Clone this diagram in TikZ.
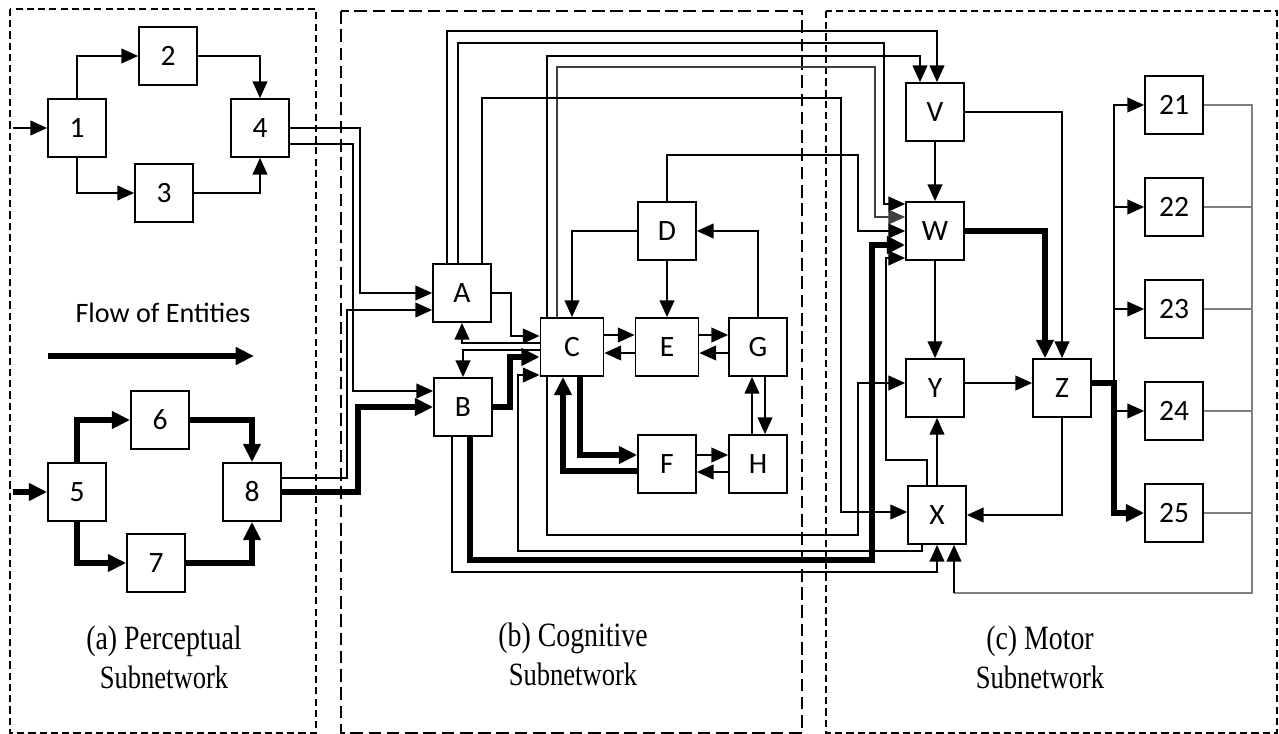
\documentclass[tikz,border=0pt]{standalone}
\usepackage{fontspec}
\setmainfont{Liberation Serif}
\newfontfamily\labelfont{Carlito}
\usetikzlibrary{
    arrows.meta
}

\begin{document}
\begin{tikzpicture}[
    x=0.025cm,
    y=-0.025cm,
    block/.style={
        rectangle,
        draw,
        line width=1.2pt,
        fill=white,
        minimum width=1.45cm,
        minimum height=1.45cm,
        inner sep=0pt,
        font=\labelfont\fontsize{21}{24}\selectfont
    },
    wideblock/.style={
        block,
        minimum width=1.575cm
    },
    arrow/.style={
        -{Triangle[length=12pt,width=10.5pt]},
        line width=1.4pt
    },
    heavyarrow/.style={
        -{Triangle[length=13pt,width=12pt]},
        line width=4pt
    },
    feed/.style={
        line width=0.8pt,
        draw=gray
    },
    panel/.style={
        line width=1pt
    },
    caption/.style={
        font=\fontsize{22}{26}\selectfont
    },
    subcaption/.style={
        font=\fontsize{21}{25}\selectfont
    }
]

\useasboundingbox (0,0) rectangle (1279,734);

% subnetwork panels

\draw[panel, dash pattern=on 5pt off 3pt] (10,9) rectangle (316,733);
\draw[panel, dash pattern=on 9pt off 4pt] (341,11) rectangle (802,733);
\draw[panel, dash pattern=on 5pt off 3pt] (826,11) rectangle (1277,733);

\node[caption] (capa) at (164,641) {\scalebox{0.9}[1.1]{(a) Perceptual}};
\node[subcaption] (capa2) at (164,677) {\scalebox{0.9}[1.1]{Subnetwork}};
\node[caption] (capb) at (573,638) {\scalebox{0.9}[1.1]{(b) Cognitive}};
\node[subcaption] (capb2) at (573,674) {\scalebox{0.9}[1.1]{Subnetwork}};
\node[caption] (capc) at (1040,641) {\scalebox{0.9}[1.1]{(c) Motor}};
\node[subcaption] (capc2) at (1040,677) {\scalebox{0.9}[1.1]{Subnetwork}};

% perceptual nodes

\node[block] (p1) at (77,128) {1};
\node[block] (p2) at (168,56) {2};
\node[block] (p3) at (164,193) {3};
\node[block] (p4) at (260,128) {4};
\node[block] (p5) at (77,492) {5};
\node[block] (p6) at (160,420) {6};
\node[block] (p7) at (156,563) {7};
\node[block] (p8) at (252,492) {8};

\coordinate (in1) at (13,128);
\coordinate (in5) at (13,492);

% flow legend

\node[font=\labelfont\fontsize{20}{24}\selectfont] (flowtext) at (163,313) {Flow of Entities};
\coordinate (flowstart) at (48,356);
\coordinate (flowend) at (254,356);
\draw[heavyarrow] (flowstart) -- (flowend);

% cognitive nodes

\node[block] (A) at (462,293) {A};
\node[block] (B) at (463,407) {B};
\node[wideblock] (C) at (572,347) {C};
\node[block] (D) at (667,231) {D};
\node[wideblock] (E) at (667,347) {E};
\node[block] (F) at (667,464) {F};
\node[block] (G) at (758,347) {G};
\node[block] (H) at (758,464) {H};

% motor nodes

\node[block] (V) at (935,112) {V};
\node[block] (W) at (935,231) {W};
\node[block] (Y) at (935,388) {Y};
\node[block] (X) at (937,515) {X};
\node[block] (Z) at (1062,388) {Z};

\node[block] (out21) at (1174,105) {21};
\node[block] (out22) at (1174,207) {22};
\node[block] (out23) at (1174,309) {23};
\node[block] (out24) at (1174,411) {24};
\node[block] (out25) at (1174,513) {25};

% perceptual paths

\draw[arrow] (in1) -- (p1);
\draw[arrow] (p1.north) |- (p2.west);
\draw[arrow] (p1.south) |- (p3.west);
\draw[arrow] (p2.east) -| (p4.north);
\draw[arrow] (p3.east) -| (p4.south);

\draw[heavyarrow] (in5) -- (p5);
\draw[heavyarrow] (p5.north) |- (p6.west);
\draw[heavyarrow] (p5.south) |- (p7.west);
\draw[heavyarrow] (p6.east) -| (p8.north);
\draw[heavyarrow] (p7.east) -| (p8.south);

% perceptual to cognitive

\draw[arrow]
    (p4.east) -| (360,0 |- A.west) -- (A.west);
\draw[arrow]
    (p4.east |- 0,144) -| (353,391) -- (B.west |- 0,391);
\draw[arrow]
    (p8.east |- 0,478) -| (347,310) -- (A.west |- 0,310);
\draw[heavyarrow]
    (p8.east) -| (358,0 |- B.west) -- (B.west);

% inside the cognitive subnetwork

\draw[arrow] (D.west) -| (C.north);
\draw[arrow] (D.south) -- (E.north);
\draw[arrow] (G.north) |- (D.east);

\draw[arrow] (C.east |- 0,335) -- (E.west |- 0,335);
\draw[arrow] (E.west |- 0,353) -- (C.east |- 0,353);
\draw[arrow] (E.east |- 0,335) -- (G.west |- 0,335);
\draw[arrow] (G.west |- 0,353) -- (E.east |- 0,353);

\draw[arrow] (G.south -| 765,0) -- (H.north -| 765,0);
\draw[arrow] (H.north -| 752,0) -- (G.south -| 752,0);
\draw[arrow] (F.east |- 0,455) -- (H.west |- 0,455);
\draw[arrow] (H.west |- 0,472) -- (F.east |- 0,472);

\draw[heavyarrow]
    (C.south -| 580,0) |- (F.west |- 0,455);
\draw[heavyarrow]
    (F.west |- 0,471) -| (C.south -| 563,0);

\draw[arrow]
    (A.east) -| (511,336) -- (C.west |- 0,336);
\draw[arrow]
    (C.west |- 0,343) -| (A.south);
\draw[arrow]
    (C.west |- 0,350) -| (B.north);
\draw[heavyarrow]
    (B.east) -| (510,357) -- (C.west |- 0,357);

% cognitive to motor, over the top

\draw[arrow]
    (A.north -| 447,0) -- (447,31) -| (V.north -| 937,0);
\draw[arrow]
    (A.north -| 458,0) -- (458,43) -| (884,204) -- (W.west |- 0,204);
\draw[arrow]
    (C.north -| 547,0) -- (547,56) -| (V.north -| 920,0);
\draw[feed, -{Triangle[length=12pt,width=10.5pt]}, draw=black!75]
    (C.north -| 557,0) -- (557,67) -| (875,217) -- (W.west |- 0,217);
\draw[arrow]
    (A.north -| 482,0) -- (482,98) -| (841,512) -- (X.west |- 0,512);
\draw[arrow, line width=1pt]
    (D.north) -- (667,155) -| (858,231) -- (W.west);

% cognitive to motor, underneath

\draw[arrow]
    (C.south -| 547,0) |- (858,535) |- (Y.west |- 0,383);
\draw[heavyarrow]
    (B.south -| 470,0) -- (470,560) -| (872,245) -- (W.west |- 0,245);
\draw[arrow]
    (B.south -| 452,0) -- (452,572) -| (X.south -| 937,0);

% motor back to cognitive

\draw[arrow]
    (X.south -| 922,0) -- (922,551) -| (518,375) -- (C.west |- 0,375);
\draw[arrow]
    (X.north -| 927,0) -- (927,460) -| (886,258) -- (W.west |- 0,258);

% inside the motor subnetwork

\draw[arrow] (V.south) -- (W.north);
\draw[arrow] (V.east) -| (Z.north);
\draw[heavyarrow] (W.east) -| (Z.north -| 1045,0);
\draw[arrow] (W.south) -- (Y.north);
\draw[arrow] (Y.east |- 0,383) -- (Z.west |- 0,383);
\draw[arrow] (X.north) -- (Y.south -| X.north);
\draw[arrow] (Z.south) |- (X.east);

% motor outputs

\draw[arrow] (Z.east |- 0,383) -| (1114,0 |- out21.west) -- (out21.west);
\draw[arrow] (Z.east |- 0,383) -| (1114,0 |- out22.west) -- (out22.west);
\draw[arrow] (Z.east |- 0,383) -| (1114,0 |- out23.west) -- (out23.west);
\draw[arrow] (Z.east |- 0,383) -| (1114,0 |- out24.west) -- (out24.west);
\draw[heavyarrow] (Z.east |- 0,383) -| (1114,0 |- out25.west) -- (out25.west);

% feedback to X

\coordinate (fbcorner) at (954,593);
\draw[feed] (out21.east) -| (1252,593) -- (fbcorner);
\draw[feed] (out22.east) -- (1252,0 |- out22.east);
\draw[feed] (out23.east) -- (1252,0 |- out23.east);
\draw[feed] (out24.east) -- (1252,0 |- out24.east);
\draw[feed] (out25.east) -- (1252,0 |- out25.east);
\draw[arrow] (fbcorner) -- (X.south -| fbcorner);

\end{tikzpicture}
\end{document}
